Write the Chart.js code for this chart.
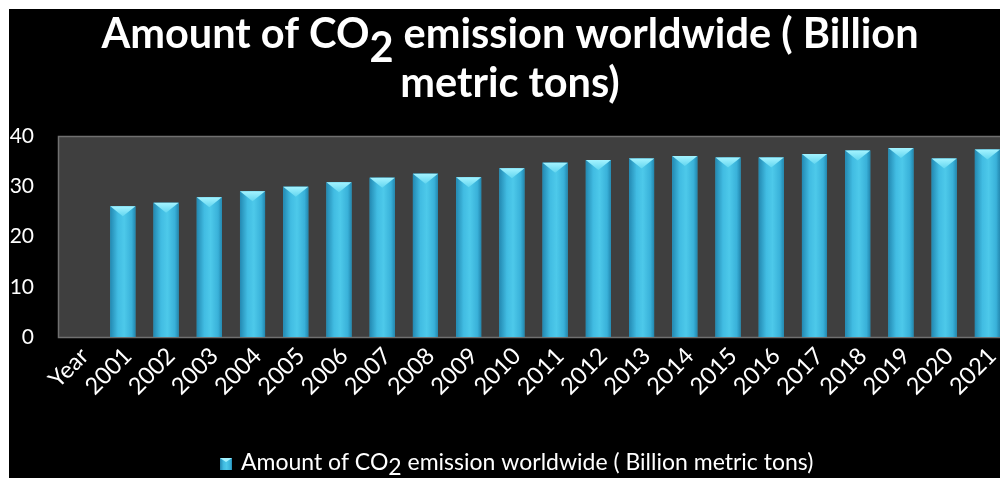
<!DOCTYPE html>
<html>
<head>
<meta charset="utf-8">
<script src="https://cdn.jsdelivr.net/npm/chart.js@4.4.1/dist/chart.umd.min.js"></script>
<style>
  html, body { margin: 0; padding: 0; background: #fff; width: 1000px; height: 478px; overflow: hidden; }
  #frame { position: absolute; left: 9px; top: 9px; width: 991px; height: 469px; background: #000; overflow: hidden; }
  #chart { position: absolute; left: 0; top: 0; }
</style>
</head>
<body>
<div id="frame"><canvas id="chart" width="1002" height="469"></canvas></div>
<script>
// Categories along the x axis (first slot is the header cell, no value)
const years = ['Year', '2001', '2002', '2003', '2004', '2005', '2006', '2007', '2008', '2009', '2010',
  '2011', '2012', '2013', '2014', '2015', '2016', '2017', '2018', '2019', '2020', '2021'];

// Worldwide CO2 emissions, billion metric tons
const emissions = [null, 26.0, 26.7, 27.8, 29.0, 29.9, 30.8, 31.7, 32.5, 31.8, 33.6,
  34.7, 35.2, 35.5, 36.0, 35.7, 35.7, 36.4, 37.1, 37.6, 35.5, 37.3];

// Value axis ticks
const yTicks = [0, 10, 20, 30, 40];

// Title and legend text, split so the "2" of CO2 can be set lower
const titleLine1 = [['Amount of CO', false], ['2', true], [' emission worldwide ( Billion', false]];
const titleLine2 = [['metric tons)', false]];
const seriesName = [['Amount of CO', false], ['2', true], [' emission worldwide ( Billion metric tons)', false]];

const FONT = 'Lato, "Open Sans", sans-serif';

function drawRich(ctx, parts, xStart, baseline, size, weight, drop, align) {
  ctx.font = weight + ' ' + size + 'px ' + FONT;
  let total = 0;
  parts.forEach(p => { total += ctx.measureText(p[0]).width; });
  let x = align === 'center' ? xStart - total / 2 : xStart;
  ctx.textAlign = 'left';
  ctx.textBaseline = 'alphabetic';
  parts.forEach(p => {
    ctx.fillText(p[0], x, baseline + (p[1] ? drop : 0));
    x += ctx.measureText(p[0]).width;
  });
}

function barGradient(ctx, l, r) {
  const g = ctx.createLinearGradient(l, 0, r, 0);
  g.addColorStop(0, '#2389b2');
  g.addColorStop(0.3, '#41bce2');
  g.addColorStop(0.55, '#4dc9ea');
  g.addColorStop(0.85, '#39b1d9');
  g.addColorStop(1, '#2388b0');
  return g;
}

const plotBackground = {
  id: 'plotBackground',
  beforeDatasetsDraw(chart) {
    const { ctx, chartArea: a } = chart;
    ctx.save();
    ctx.fillStyle = '#3f3f3f';
    ctx.fillRect(a.left, a.top, a.right - a.left, a.bottom - a.top);
    ctx.strokeStyle = '#707070';
    ctx.lineWidth = 1.5;
    ctx.strokeRect(a.left + 0.5, a.top + 0.5, a.right - a.left, a.bottom - a.top);
    ctx.restore();
  }
};

// Shaded cylinder-like bars with a bevelled top
const bevelBars = {
  id: 'bevelBars',
  afterDatasetsDraw(chart) {
    const { ctx } = chart;
    const meta = chart.getDatasetMeta(0);
    ctx.save();
    meta.data.forEach((bar, i) => {
      if (emissions[i] == null) return;
      const p = bar.getProps(['x', 'y', 'base', 'width'], true);
      const l = p.x - p.width / 2, r = p.x + p.width / 2;
      ctx.fillStyle = barGradient(ctx, l, r);
      ctx.fillRect(l, p.y, p.width, p.base - p.y);
      const h = 10;
      const cap = ctx.createLinearGradient(0, p.y, 0, p.y + h);
      cap.addColorStop(0, '#a4f3ff');
      cap.addColorStop(1, '#62d6f0');
      ctx.fillStyle = cap;
      ctx.beginPath();
      ctx.moveTo(l, p.y);
      ctx.lineTo(r, p.y);
      ctx.lineTo(p.x, p.y + h);
      ctx.closePath();
      ctx.fill();
    });
    ctx.restore();
  }
};

const richText = {
  id: 'richText',
  afterDraw(chart) {
    const { ctx } = chart;
    ctx.save();
    ctx.fillStyle = '#ffffff';
    const cx = 501;
    drawRich(ctx, titleLine1, cx, 39, 41.5, 'bold', 14, 'center');
    drawRich(ctx, titleLine2, cx, 88, 41.5, 'bold', 14, 'center');
    // legend
    ctx.fillStyle = barGradient(ctx, 211, 223);
    ctx.fillRect(211, 449, 12, 12);
    ctx.fillStyle = '#a4f3ff';
    ctx.beginPath(); ctx.moveTo(211, 449); ctx.lineTo(223, 449); ctx.lineTo(217, 453); ctx.closePath(); ctx.fill();
    ctx.fillStyle = '#ffffff';
    drawRich(ctx, seriesName, 232, 461, 23, 'normal', 5, 'left');
    ctx.restore();
  }
};

new Chart(document.getElementById('chart'), {
  type: 'bar',
  data: {
    labels: years,
    datasets: [{
      label: seriesName.map(p => p[0]).join(''),
      data: emissions,
      backgroundColor: '#3bb5da',
      borderWidth: 0,
      categoryPercentage: 1,
      barPercentage: 0.58
    }]
  },
  options: {
    responsive: false,
    animation: false,
    layout: { padding: { top: 127, right: 2, bottom: 81, left: 0 } },
    plugins: {
      legend: { display: false },
      title: { display: false },
      tooltip: { enabled: false }
    },
    scales: {
      x: {
        grid: { display: false },
        border: { display: false },
        ticks: {
          color: '#ffffff',
          font: { family: FONT, size: 23.5 },
          autoSkip: false,
          minRotation: 45,
          maxRotation: 45,
          labelOffset: 5,
          padding: -3
        },
        afterFit(scale) { scale.height = 60; }
      },
      y: {
        min: yTicks[0],
        max: yTicks[yTicks.length - 1],
        grid: { display: false },
        border: { display: false },
        afterBuildTicks(scale) { scale.ticks = yTicks.map(v => ({ value: v })); },
        ticks: {
          color: '#ffffff',
          font: { family: FONT, size: 21 },
          padding: 16
        },
        afterFit(scale) { scale.width = 49; }
      }
    }
  },
  plugins: [plotBackground, bevelBars, richText]
});
</script>
</body>
</html>
